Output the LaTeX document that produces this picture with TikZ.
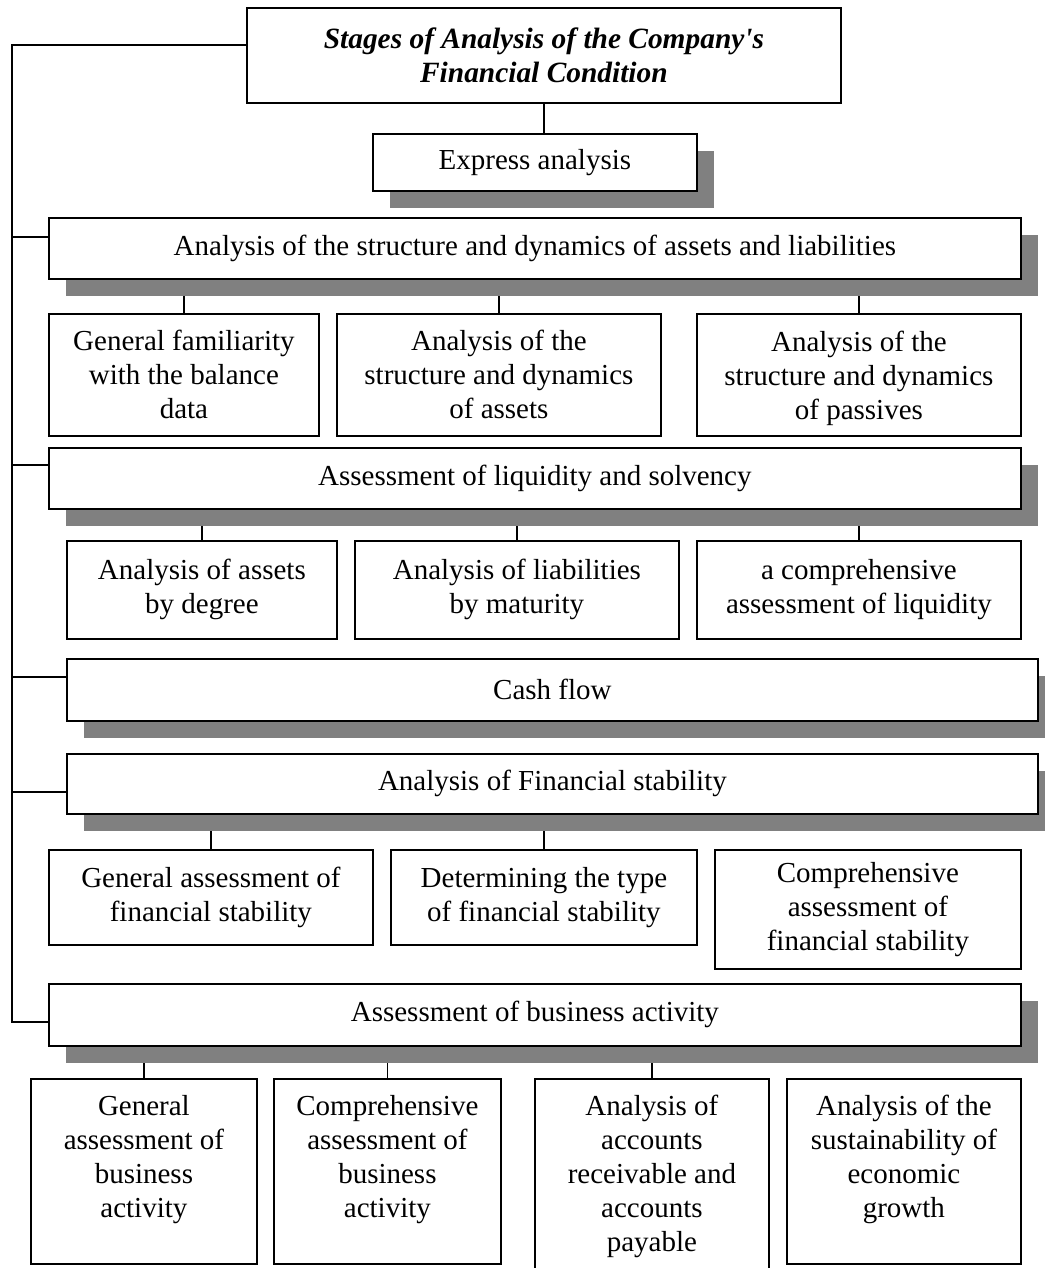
\documentclass[tikz,border=0pt]{standalone}
\usepackage{fontspec}
\setmainfont{Liberation Serif}
\usetikzlibrary{shadows}
\pgfdeclarelayer{bg}
\pgfsetlayers{bg,main}

\tikzset{
  box/.style={draw, line width=0.9pt, fill=white, inner sep=1pt, anchor=north west, align=center},
  wh/.style 2 args={minimum width=#1*0.5pt, minimum height=#2*0.5pt},
  shad/.style={drop shadow={shadow xshift=8.5pt, shadow yshift=-8.5pt, fill=black!50, opacity=1}},
  link/.style={line width=0.9pt}
}

\begin{document}
\begin{tikzpicture}[x=0.5pt, y=-0.5pt, font=\fontsize{14.5}{17}\selectfont]
        \useasboundingbox (0,0) rectangle (1044,1268);
        % main stages
        \node (title) [box, wh={594}{95}, font=\fontsize{14.7}{17}\selectfont\bfseries\itshape] at (246,7) {Stages of Analysis of the Company\textquotesingle s\\Financial Condition};
        \node (expr) [box, shad, wh={324}{57}] at (372,133) {Express analysis};
        \node (struct) [box, shad, wh={972}{61}] at (48,217) {Analysis of the structure and dynamics of assets and liabilities};
        \node (liq) [box, shad, wh={972}{61}] at (48,447) {Assessment of liquidity and solvency};
        \node (cash) [box, shad, wh={971}{62}] at (66,658) {Cash flow};
        \node (fin) [box, shad, wh={971}{60}] at (66,753) {Analysis of Financial stability};
        \node (bus) [box, shad, wh={972}{62}] at (48,983) {Assessment of business activity};
        % sub-stages
        \node (s1) [box, wh={270}{122}] at (48,313) {General familiarity\\with the balance\\data};
        \node (s2) [box, wh={324}{122}] at (336,313) {Analysis of the\\structure and dynamics\\of assets};
        \node (s3) [box, wh={324}{122}, text depth=0pt] at (696,313) {Analysis of the\\structure and dynamics\\of passives};
        \node (l1) [box, wh={270}{98}] at (66,540) {Analysis of assets\\by degree};
        \node (l2) [box, wh={324}{98}] at (354,540) {Analysis of liabilities\\by maturity};
        \node (l3) [box, wh={324}{98}] at (696,540) {a comprehensive\\assessment of liquidity};
        \node (f1) [box, wh={324}{95}] at (48,849) {General assessment of\\financial stability};
        \node (f2) [box, wh={306}{95}] at (390,849) {Determining the type\\of financial stability};
        \node (f3) [box, wh={306}{119}] at (714,849) {Comprehensive\\assessment of\\financial stability};
        \node (b1) [box, wh={226}{185}, text depth=15pt] at (30,1078) {General\\assessment of\\business\\activity};
        \node (b2) [box, wh={227}{185}, text depth=15pt] at (273,1078) {Comprehensive\\assessment of\\business\\activity};
        \node (b3) [box, wh={234}{196}] at (534,1078) {Analysis of\\accounts\\receivable and\\accounts\\payable};
        \node (b4) [box, wh={234}{185}, text depth=15pt] at (786,1078) {Analysis of the\\sustainability of\\economic\\growth};
        % spine
        \coordinate (p0) at (12,45);
        \coordinate (p1) at (12,237);
        \coordinate (p2) at (12,465);
        \coordinate (p3) at (12,677);
        \coordinate (p4) at (12,792);
        \coordinate (p5) at (12,1022);
        \begin{pgfonlayer}{bg}
                \draw [link] (title.west |- p0) -- (p0) -- (p5) -- (bus.west |- p5);
                \draw [link] (p1) -- (struct.west |- p1);
                \draw [link] (p2) -- (liq.west |- p2);
                \draw [link] (p3) -- (cash.west |- p3);
                \draw [link] (p4) -- (fin.west |- p4);
                \draw [link] (title.south) -- (title.south |- expr.north);
                \foreach \c/\p in {s1/struct, s2/struct, s3/struct, l1/liq, l2/liq, l3/liq, f1/fin, f2/fin, b1/bus, b2/bus, b3/bus}
                        \draw [link] (\c.north) -- (\c.north |- \p.south);
        \end{pgfonlayer}
\end{tikzpicture}
\end{document}
